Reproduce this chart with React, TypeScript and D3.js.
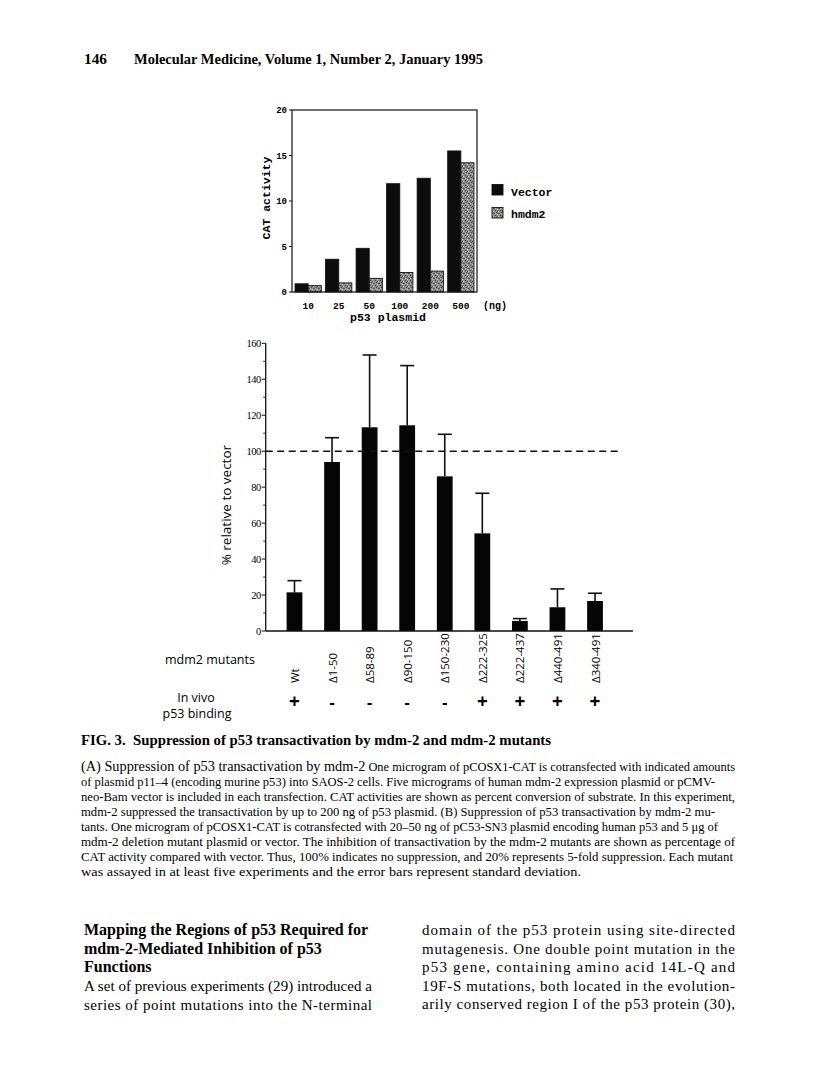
import React from 'react';
import { scaleBand, scaleLinear, range } from 'd3';

// panel A: CAT activity vs amount of p53 plasmid
const doseLabels = ['10', '25', '50', '100', '200', '500'];
const seriesNames = ['Vector', 'hmdm2'];
const vectorValues = [0.9, 3.6, 4.8, 11.9, 12.5, 15.5];
const hmdm2Values = [0.7, 1.0, 1.5, 2.15, 2.3, 14.2];
const catTicks = [0, 5, 10, 15, 20];

// panel B: mdm2 deletion mutants
const mutants = ['Wt', 'Δ1-50', 'Δ58-89', 'Δ90-150', 'Δ150-230', 'Δ222-325', 'Δ222-437', 'Δ440-491', 'Δ340-491'];
const relativeValues = [21.5, 94, 113.3, 114.4, 86, 54.3, 5.6, 13.2, 16.7];
const sdValues = [6.5, 13.5, 40.2, 33.2, 23.4, 22.3, 1.3, 10.2, 4.3];
const p53Binding = ['+', '-', '-', '-', '-', '+', '+', '+', '+'];
const relTicks = [0, 20, 40, 60, 80, 100, 120, 140, 160];

const headerNumber = '146';
const headerTitle = 'Molecular Medicine, Volume 1, Number 2, January 1995';
const figTitle = 'FIG. 3.  Suppression of p53 transactivation by mdm-2 and mdm-2 mutants';
const captionLead = '(A) Suppression of p53 transactivation by mdm-2';
const captionLines = [
  ' One microgram of pCOSX1-CAT is cotransfected with indicated amounts',
  'of plasmid p11–4 (encoding murine p53) into SAOS-2 cells. Five micrograms of human mdm-2 expression plasmid or pCMV-',
  'neo-Bam vector is included in each transfection. CAT activities are shown as percent conversion of substrate. In this experiment,',
  'mdm-2 suppressed the transactivation by up to 200 ng of p53 plasmid. (B) Suppression of p53 transactivation by mdm-2 mu-',
  'tants. One microgram of pCOSX1-CAT is cotransfected with 20–50 ng of pC53-SN3 plasmid encoding human p53 and 5 μg of',
  'mdm-2 deletion mutant plasmid or vector. The inhibition of transactivation by the mdm-2 mutants are shown as percentage of',
  'CAT activity compared with vector. Thus, 100% indicates no suppression, and 20% represents 5-fold suppression. Each mutant',
  'was assayed in at least five experiments and the error bars represent standard deviation.'
];
const captionWidths = [654, 634, 654, 634, 637, 654, 652, 500];
const headingLines = ['Mapping the Regions of p53 Required for', 'mdm-2-Mediated Inhibition of p53', 'Functions'];
const leftBody = ['A set of previous experiments (29) introduced a', 'series of point mutations into the N-terminal'];
const rightBody = [
  'domain of the p53 protein using site-directed',
  'mutagenesis. One double point mutation in the',
  'p53 gene, containing amino acid 14L-Q and',
  '19F-S mutations, both located in the evolution-',
  'arily conserved region I of the p53 protein (30),'
];

const serif = '"Liberation Serif", "Times New Roman", serif';
const mono = '"Liberation Mono", "Courier New", monospace';
const sans = '"Open Sans", "DejaVu Sans", sans-serif';

function PanelA() {
  const x0 = 292, x1 = 477, yTop = 110, yBot = 292;
  const x = scaleBand<string>().domain(doseLabels).range([x0, x1]).paddingInner(0.14).paddingOuter(0.1);
  const xs = scaleBand<string>().domain(seriesNames).range([0, x.bandwidth()]);
  const y = scaleLinear().domain([0, 20]).range([yBot, yTop]);
  const values = [vectorValues, hmdm2Values];

  return (
    <g>
      <defs>
        <pattern id="stipple" width="5" height="5" patternUnits="userSpaceOnUse">
          <rect width="5" height="5" fill="#8c8c8c" />
          <rect x="0" y="0" width="1" height="1" fill="#3a3a3a" />
          <rect x="3" y="1" width="1" height="1" fill="#d0d0d0" />
          <rect x="1" y="2" width="1" height="1" fill="#444" />
          <rect x="4" y="3" width="1" height="1" fill="#555" />
          <rect x="2" y="4" width="1" height="1" fill="#c8c8c8" />
          <rect x="3" y="3" width="1" height="1" fill="#505050" />
          <rect x="0" y="3" width="1" height="1" fill="#bdbdbd" />
          <rect x="2" y="1" width="1" height="1" fill="#4a4a4a" />
        </pattern>
      </defs>
      {doseLabels.map((d, i) =>
        seriesNames.map((s, j) => (
          <rect key={d + s}
            x={(x(d) as number) + (xs(s) as number)}
            y={y(values[j][i])}
            width={xs.bandwidth()}
            height={yBot - y(values[j][i])}
            fill={j === 0 ? '#0d0d0d' : 'url(#stipple)'}
            stroke="#111" strokeWidth={0.9} />
        ))
      )}
      {/* frame */}
      <rect x={x0} y={yTop} width={x1 - x0} height={yBot - yTop} fill="none" stroke="#111" strokeWidth={1.2} />
      {catTicks.map(t => (
        <g key={t}>
          <line x1={x0 - 3} x2={x0} y1={y(t)} y2={y(t)} stroke="#111" strokeWidth={1} />
          <text x={x0 - 5} y={y(t) + 3} textAnchor="end" fontFamily={mono} fontWeight="bold" fontSize={9}>{t}</text>
        </g>
      ))}
      {doseLabels.map(d => (
        <text key={d} x={(x(d) as number) + x.bandwidth() / 2} y={308.5} textAnchor="middle"
          fontFamily={mono} fontWeight="bold" fontSize={9.5}>{d}</text>
      ))}
      <text x={483} y={308.5} fontFamily={mono} fontWeight="bold" fontSize={10}>(ng)</text>
      <text x={388} y={320.5} textAnchor="middle" fontFamily={mono} fontWeight="bold" fontSize={11.5}>p53 plasmid</text>
      <text transform={`translate(270,${(yTop + yBot) / 2 - 3}) rotate(-90)`} textAnchor="middle"
        fontFamily={mono} fontWeight="bold" fontSize={11.5}>CAT activity</text>
      {/* legend */}
      {seriesNames.map((s, j) => (
        <g key={s}>
          <rect x={492} y={184.5 + j * 23} width={11} height={10.5}
            fill={j === 0 ? '#0d0d0d' : 'url(#stipple)'} stroke="#111" strokeWidth={0.9} />
          <text x={511} y={195.5 + j * 22.5} fontFamily={mono} fontWeight="bold" fontSize={11.5}>{s}</text>
        </g>
      ))}
    </g>
  );
}

function PanelB() {
  const xAxis0 = 265.7, xAxis1 = 633, yBot = 631;
  const x = scaleBand<string>().domain(mutants).range([275.7, 613.8]).paddingInner(0.58).paddingOuter(0.29);
  const y = scaleLinear().domain([0, 160]).range([yBot, 343.3]);
  const minor = range(10, 160, 20);
  const cap = 7;

  return (
    <g>
      {mutants.map((m, i) => {
        const cx = (x(m) as number) + x.bandwidth() / 2;
        return (
          <g key={m}>
            <line x1={cx} x2={cx} y1={y(relativeValues[i])} y2={y(relativeValues[i] + sdValues[i])}
              stroke="#111" strokeWidth={1.6} />
            <line x1={cx - cap} x2={cx + cap} y1={y(relativeValues[i] + sdValues[i])} y2={y(relativeValues[i] + sdValues[i])}
              stroke="#111" strokeWidth={1.6} />
            <rect x={x(m)} y={y(relativeValues[i])} width={x.bandwidth()} height={yBot - y(relativeValues[i])} fill="#050505" />
          </g>
        );
      })}
      <line x1={xAxis0} x2={619.3} y1={y(100)} y2={y(100)} stroke="#111" strokeWidth={1.5} strokeDasharray="7 4.5" />
      <line x1={xAxis0} x2={xAxis0} y1={y(160)} y2={yBot} stroke="#111" strokeWidth={1.3} />
      <line x1={xAxis0} x2={xAxis1} y1={yBot} y2={yBot} stroke="#111" strokeWidth={1.5} />
      {relTicks.map(t => (
        <g key={t}>
          <line x1={xAxis0 - 4} x2={xAxis0} y1={y(t)} y2={y(t)} stroke="#111" strokeWidth={1} />
          <text x={xAxis0 - 5} y={y(t) + 3.5} textAnchor="end" fontFamily={serif} fontSize={10.5}
            letterSpacing={-0.5}>{t}</text>
        </g>
      ))}
      {minor.map(t => (
        <line key={t} x1={xAxis0 - 2.5} x2={xAxis0} y1={y(t)} y2={y(t)} stroke="#111" strokeWidth={0.9} />
      ))}
      <text transform={`translate(231,${y(70)}) rotate(-90)`} textAnchor="middle" fontFamily={sans} fontSize={13.5}>
        % relative to vector
      </text>
      {mutants.map((m, i) => {
        const cx = (x(m) as number) + x.bandwidth() / 2;
        return (
          <g key={m}>
            <text transform={`translate(${cx + 4.5},683) rotate(-90)`} fontFamily={sans} fontSize={11.5}>{m}</text>
            <text x={cx} y={708} textAnchor="middle" fontFamily={sans} fontWeight="bold"
              fontSize={p53Binding[i] === '+' ? 19 : 16}>{p53Binding[i]}</text>
          </g>
        );
      })}
      <text x={165} y={664} fontFamily={sans} fontSize={12.5}>mdm2 mutants</text>
      <text x={196} y={702} textAnchor="middle" fontFamily={sans} fontSize={12.5}>In vivo</text>
      <text x={197} y={718} textAnchor="middle" fontFamily={sans} fontSize={12.5}>p53 binding</text>
    </g>
  );
}

export default function App() {
  return (
    <svg width={816} height={1088} style={{ position: 'absolute', left: 0, top: 0, background: '#fff' }}>
      <rect width={816} height={1088} fill="#fff" />
      <text x={84} y={64} fontFamily={serif} fontWeight="bold" fontSize={14} textLength={23} lengthAdjust="spacingAndGlyphs">{headerNumber}</text>
      <text x={134} y={64} fontFamily={serif} fontWeight="bold" fontSize={14} textLength={349} lengthAdjust="spacingAndGlyphs">{headerTitle}</text>

      <PanelA />
      <PanelB />

      <text x={81} y={745} fontFamily={serif} fontWeight="bold" fontSize={14} textLength={470} lengthAdjust="spacingAndGlyphs" xmlSpace="preserve">{figTitle}</text>
      {captionLines.map((line, i) => (
        <text key={i} x={81} y={771 + i * 15} fontFamily={serif} fontSize={13}
          textLength={captionWidths[i]} lengthAdjust="spacingAndGlyphs"
          xmlSpace="preserve">
          {i === 0 ? <tspan fontSize={15}>{captionLead}</tspan> : null}
          {line}
        </text>
      ))}

      {headingLines.map((line, i) => (
        <text key={line} x={84} y={935 + i * 18.5} fontFamily={serif} fontWeight="bold" fontSize={16}>{line}</text>
      ))}
      {leftBody.map((line, i) => (
        <text key={line} x={84} y={991 + i * 18.5} fontFamily={serif} fontSize={15}
          textLength={288} lengthAdjust="spacing">{line}</text>
      ))}
      {rightBody.map((line, i) => (
        <text key={line} x={422} y={935 + i * 18.5} fontFamily={serif} fontSize={15}
          textLength={313} lengthAdjust="spacing">{line}</text>
      ))}
    </svg>
  );
}
